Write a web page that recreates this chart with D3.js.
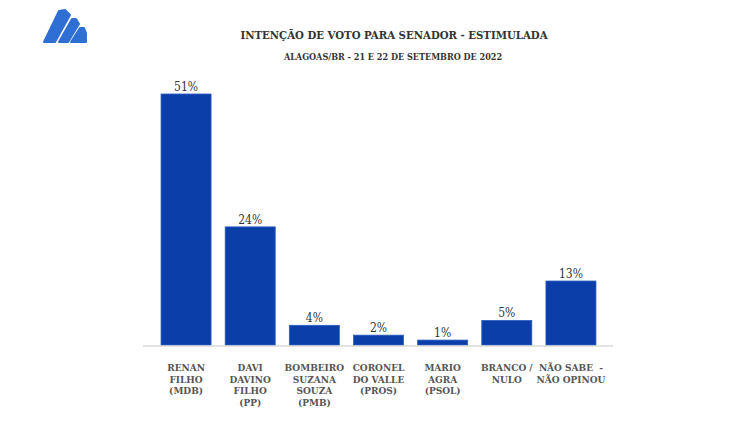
<!DOCTYPE html>
<html>
<head>
<meta charset="utf-8">
<script src="https://cdn.jsdelivr.net/npm/d3@7"></script>
<style>
  body {margin: 0; background: #fff;}
  text {font-family: 'DejaVu Serif Condensed', 'DejaVu Serif', 'Liberation Serif', serif;}
</style>
</head>
<body>
<div class="chart"></div>
<script>
var categories = [
  ['RENAN', 'FILHO', '(MDB)'],
  ['DAVI', 'DAVINO', 'FILHO', '(PP)'],
  ['BOMBEIRO', 'SUZANA', 'SOUZA', '(PMB)'],
  ['CORONEL', 'DO VALLE', '(PROS)'],
  ['MARIO', 'AGRA', '(PSOL)'],
  ['BRANCO /', 'NULO'],
  ['NÃO SABE  -', 'NÃO OPINOU']
]
var values = [51, 24, 4, 2, 1, 5, 13]
var title = 'INTENÇÃO DE VOTO PARA SENADOR - ESTIMULADA'
var subtitle = 'ALAGOAS/BR - 21 E 22 DE SETEMBRO DE 2022'

var data = categories.map((d, i) => ({lines: d, key: i, value: values[i]}))

var width = 736, height = 431
var svg = d3.select('.chart').html('').append('svg')
  .attr('width', width).attr('height', height)

var x = d3.scaleBand().domain(data.map(d => d.key))
  .range([145, 612]).paddingInner(0.22).paddingOuter(0.25)
var y = d3.scaleLinear().domain([0, 51]).range([345, 94])

// logo
var logo = svg.append('g').attr('fill', '#2f6fd3').attr('stroke', '#2f6fd3')
  .attr('stroke-linejoin', 'round').attr('stroke-width', 2)
;[
  'M44,42 L59,11 L65,10 L70,15 L55,42 Z',
  'M59,42 L72,19 L76,19 L79,24 L68,42 Z',
  'M71,42 L80,28 L84,28 L86,33 L86,42 Z'
].forEach(p => logo.append('path').attr('d', p))

// titles
svg.append('text').text(title)
  .attr('x', 394).attr('y', 39).attr('text-anchor', 'middle')
  .attr('font-weight', 'bold').attr('font-size', 11.3).attr('fill', '#333')
svg.append('text').text(subtitle)
  .attr('x', 393).attr('y', 60).attr('text-anchor', 'middle')
  .attr('font-weight', 'bold').attr('font-size', 9).attr('fill', '#333')

// bars
svg.selectAll('rect.bar').data(data).enter().append('rect')
  .attr('class', 'bar')
  .attr('x', d => x(d.key))
  .attr('width', x.bandwidth())
  .attr('y', d => y(d.value))
  .attr('height', d => y(0) - y(d.value))
  .attr('fill', '#0b3ea8')
  .attr('stroke', '#2c5fc2').attr('stroke-width', 0.8)

// baseline
svg.append('line')
  .attr('x1', 143).attr('x2', 613)
  .attr('y1', y(0) + 1).attr('y2', y(0) + 1)
  .attr('stroke', '#c8c8c8').attr('stroke-width', 1.2)

// value labels
svg.selectAll('text.val').data(data).enter().append('text')
  .attr('class', 'val')
  .attr('x', d => x(d.key) + x.bandwidth() / 2)
  .attr('y', d => y(d.value) - 3)
  .attr('text-anchor', 'middle')
  .attr('font-size', 12).attr('fill', '#333')
  .text(d => d.value + '%')

// category labels
var cat = svg.selectAll('text.cat').data(data).enter().append('text')
  .attr('class', 'cat')
  .attr('text-anchor', 'middle')
  .attr('font-weight', 'bold').attr('font-size', 10).attr('fill', '#555')
  .attr('transform', d => 'translate(' + (x(d.key) + x.bandwidth() / 2) + ',371)')
cat.selectAll('tspan').data(d => d.lines).enter().append('tspan')
  .attr('x', 0).attr('dy', (d, i) => i ? 11.7 : 0)
  .attr('xml:space', 'preserve')
  .text(d => d)
</script>
</body>
</html>
